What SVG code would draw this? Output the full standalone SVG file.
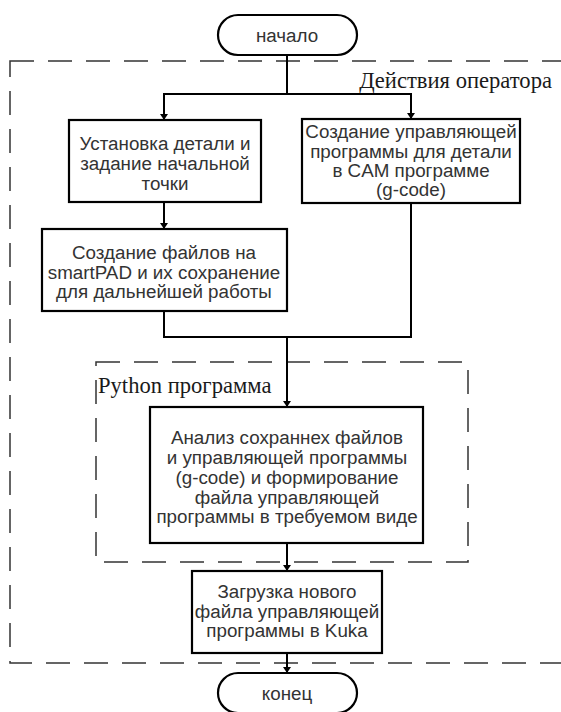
<svg xmlns="http://www.w3.org/2000/svg" width="561" height="712" viewBox="0 0 561 712">
<defs>
<style>
.box{fill:#fff;stroke:#000;stroke-width:2.2}
.term{fill:#fff;stroke:#000;stroke-width:2.2}
.grp{fill:none;stroke:#333;stroke-width:1.5;stroke-dasharray:24 14}
.t{font-family:"Liberation Sans",Arial,sans-serif;font-size:18.8px;fill:#333;text-anchor:middle}
.lbl{font-family:"Liberation Serif","Times New Roman",serif;font-size:22.6px;fill:#1a1a1a}
.ln{fill:none;stroke:#000;stroke-width:2}
</style>
<marker id="ah" viewBox="0 0 6 8" refX="6" refY="4" markerWidth="6" markerHeight="8" markerUnits="userSpaceOnUse" orient="auto">
<path d="M0,0 L6,4 L0,8 z" fill="#000"/>
</marker>
</defs>
<rect width="561" height="712" fill="#fff"/>
<g id="group-operator">
<rect class="grp" x="10" y="61" width="565" height="602"/>
<text class="lbl" x="552" y="88" text-anchor="end">Действия оператора</text>
</g>
<g id="group-python">
<rect class="grp" x="96" y="362" width="372" height="200"/>
<text class="lbl" x="98" y="393">Python программа</text>
</g>
<g id="connectors">
<path class="ln" d="M287,55 V94 H164 V120" marker-end="url(#ah)"/>
<path class="ln" d="M287,94 H411 V119" marker-end="url(#ah)"/>
<path class="ln" d="M164,202 V229" marker-end="url(#ah)"/>
<path class="ln" d="M164,311 V337 H411 V203"/>
<path class="ln" d="M287,337 V407" marker-end="url(#ah)"/>
<path class="ln" d="M287,543 V571" marker-end="url(#ah)"/>
<path class="ln" d="M287,653 V673" marker-end="url(#ah)"/>
</g>
<g id="start">
<rect class="term" x="218" y="15" width="139" height="40" rx="20"/>
<text class="t" x="287" y="42">начало</text>
</g>
<g id="node1">
<rect class="box" x="69" y="120" width="192" height="82"/>
<text class="t" x="165" y="150">Установка детали и</text>
<text class="t" x="165" y="170">задание начальной</text>
<text class="t" x="165" y="189.5">точки</text>
</g>
<g id="node2">
<rect class="box" x="302" y="119" width="218" height="84"/>
<text class="t" x="411" y="138">Создание управляющей</text>
<text class="t" x="411" y="157.5">программы для детали</text>
<text class="t" x="411" y="177">в CAM программе</text>
<text class="t" x="411" y="196">(g-code)</text>
</g>
<g id="node3">
<rect class="box" x="42" y="229" width="245" height="82"/>
<text class="t" x="164" y="259">Создание файлов на</text>
<text class="t" x="164" y="278.5">smartPAD и их сохранение</text>
<text class="t" x="164" y="298">для дальнейшей работы</text>
</g>
<g id="node4">
<rect class="box" x="150" y="407" width="273" height="136"/>
<text class="t" x="287" y="444">Анализ сохраннех файлов</text>
<text class="t" x="287" y="464">и управляющей программы</text>
<text class="t" x="287" y="484">(g-code) и формирование</text>
<text class="t" x="287" y="503.5">файла управляющей</text>
<text class="t" x="287" y="523">программы в требуемом виде</text>
</g>
<g id="node5">
<rect class="box" x="192" y="571" width="190" height="82"/>
<text class="t" x="287" y="598">Загрузка нового</text>
<text class="t" x="287" y="617.5">файла управляющей</text>
<text class="t" x="287" y="637">программы в Kuka</text>
</g>
<g id="end">
<rect class="term" x="218" y="673" width="139" height="40" rx="20"/>
<text class="t" x="287" y="700">конец</text>
</g>
</svg>
